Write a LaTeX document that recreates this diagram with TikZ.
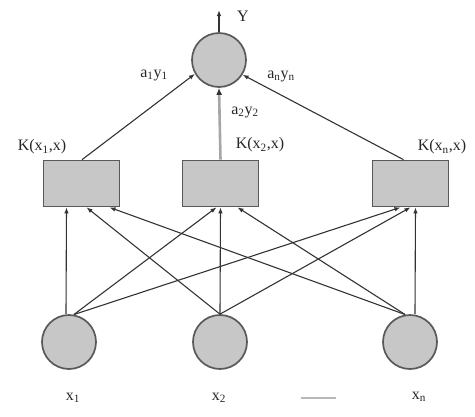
\documentclass[tikz,border=0pt]{standalone}
\usepackage{fontspec}
\setmainfont{Liberation Serif}
\usetikzlibrary{arrows.meta}
\newcommand{\sbs}[1]{\textsubscript{#1}}
\begin{document}
\begin{tikzpicture}[x=1pt,y=-1pt,
  neuron/.style={circle,draw=black!65,fill=black!22,line width=1.7pt,minimum size=54pt,inner sep=0pt},
  kbox/.style={rectangle,draw=black!65,fill=black!22,line width=1.7pt,minimum width=76pt,minimum height=46pt,inner sep=0pt},
  conn/.style={draw=black!80,line width=1.1pt,-{Latex[length=6pt,width=4.5pt]}},
  midconn/.style={draw=black!35,line width=2.6pt,-{Latex[length=7pt,width=6pt,color=black!80]}},
  lbl/.style={font=\fontsize{16}{18}\selectfont,inner sep=0pt,text=black!85},
]
\useasboundingbox (0,0) rectangle (475,416);

% nodes
\node[neuron] (out) at (219,60) {};
\node[kbox] (k1) at (81.5,183.5) {};
\node[kbox] (k2) at (220.5,183.5) {};
\node[kbox] (k3) at (410.5,183.5) {};
\node[neuron] (i1) at (69,342) {};
\node[neuron] (i2) at (220,342) {};
\node[neuron] (i3) at (410,342) {};
\coordinate (yout) at (219,10);

% labels
\node[lbl] (ylab) at (243,16) {Y};
\node[lbl] (l1) at (154,75) {a\sbs{1}y\sbs{1}};
\node[lbl] (l2) at (245,112) {a\sbs{2}y\sbs{2}};
\node[lbl] (l3) at (281,76) {a\sbs{n}y\sbs{n}};
\node[lbl] (kl1) at (42,147) {K(x\sbs{1},x)};
\node[lbl] (kl2) at (260,145) {K(x\sbs{2},x)};
\node[lbl] (kl3) at (442,147) {K(x\sbs{n},x)};
\node[lbl] (x1) at (73,398) {x\sbs{1}};
\node[lbl] (x2) at (219,398) {x\sbs{2}};
\node[lbl] (xn) at (419,397) {x\sbs{n}};
\node[inner sep=0pt,text=black!28] (dots) at (318,398) {\rule{35pt}{1.5pt}};

% output arrow
\draw[conn] (out.north) -- (yout);

% kernel to output
\draw[conn] ([xshift=0.5pt]k1.north) -- (out.210);
\draw[midconn] (k2.north) -- (out.south);
\draw[conn] ([xshift=-7pt]k3.north) -- (out.-32);

% inputs to kernels
\draw[conn] ([xshift=-3pt]i1.north) -- ([xshift=-15pt]k1.south);
\draw[conn] (i1.80) -- ([xshift=-4pt]k2.south);
\draw[conn] (i1.80) -- ([xshift=-10pt]k3.south);
\draw[conn] (i2.north) -- ([xshift=5pt]k1.south);
\draw[conn] (i2.north) -- (k2.south);
\draw[conn] (i2.north) -- (k3.south);
\draw[conn] (i3.100) -- ([xshift=28pt]k1.south);
\draw[conn] (i3.100) -- ([xshift=17pt]k2.south);
\draw[conn] ([xshift=5pt]i3.north) -- ([xshift=5pt]k3.south);
\end{tikzpicture}
\end{document}
